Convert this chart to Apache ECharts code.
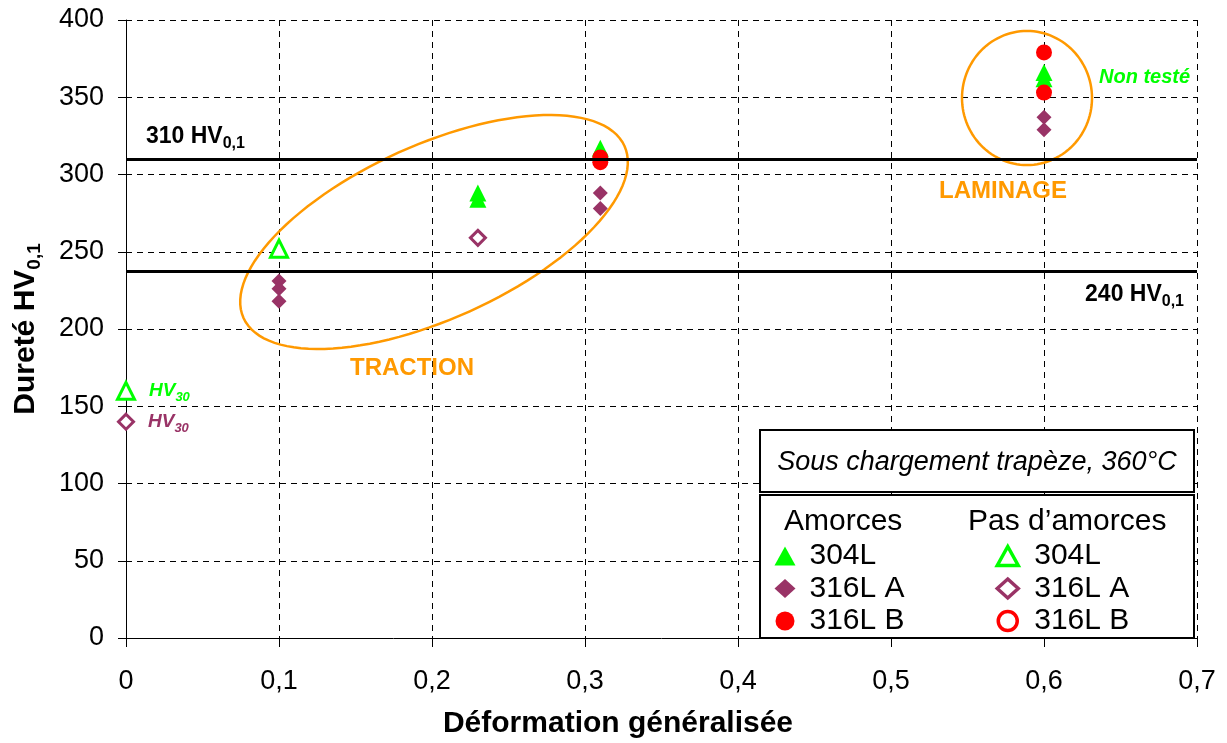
<!DOCTYPE html>
<html><head><meta charset="utf-8">
<script src="https://cdn.jsdelivr.net/npm/echarts@6/dist/echarts.min.js"></script>
<style>html,body{margin:0;padding:0;background:#fff}#c{width:1227px;height:743px}</style>
</head><body><div id="c"></div>
<script>
// ---- data ----
const s304Filled   = [[0.23,288],[0.23,284],[0.31,317],[0.6,366],[0.6,362]];
const s304Hollow   = [[0,160],[0.1,252]];
const s316AFilled  = [[0.1,231],[0.1,226],[0.1,218],[0.31,288],[0.31,278],[0.6,337],[0.6,329]];
const s316AHollow  = [[0,140],[0.23,259]];
const s316BFilled  = [[0.31,311],[0.31,308],[0.6,379],[0.6,353]];
const s316BHollow  = [];
const refLines     = [310, 237.5];
const refLabels    = ['310', '240'];
const hv30Index    = 0; // point measured HV30 in hollow series

const FONT = 'Liberation Sans, Arial, sans-serif';
const GREEN = '#00ff00', PURPLE = '#993366', RED = '#ff0000', ORANGE = '#ff9900';

function ellipsePts(cx, cy, a, b, deg) {
  const p = [], f = deg * Math.PI / 180, c = Math.cos(f), s = Math.sin(f);
  for (let i = 0; i <= 120; i++) {
    const t = i / 120 * 2 * Math.PI;
    p.push([cx + a * c * Math.cos(t) - b * s * Math.sin(t), cy + a * s * Math.cos(t) + b * c * Math.sin(t)]);
  }
  return p;
}

const hvRich = {
  m: {fontSize: 19, fontWeight: 'bold', fontStyle: 'italic', fontFamily: FONT, lineHeight: 26},
  s: {fontSize: 13, fontWeight: 'bold', fontStyle: 'italic', fontFamily: FONT, lineHeight: 12, verticalAlign: 'bottom'}
};
function withHv(arr, color) {
  return arr.map((p, i) => i === hv30Index ? {value: p, label: {show: true, position: 'right', distance: 13,
    formatter: '{m|HV}{s|30}', color: color, rich: JSON.parse(JSON.stringify(hvRich))}} : p);
}
const refRich = {
  m: {fontSize: 23, fontWeight: 'bold', fontFamily: FONT, color: '#000', lineHeight: 30},
  s: {fontSize: 16, fontWeight: 'bold', fontFamily: FONT, color: '#000', lineHeight: 14, verticalAlign: 'bottom'}
};

const chart = echarts.init(document.getElementById('c'), null, {renderer: 'canvas'});
const legendBase = {
  orient: 'vertical', itemWidth: 21, itemHeight: 19, itemGap: 2.5, padding: 0, top: 541, z: 10,
  selectedMode: false, formatter: n => n.trim(),
  textStyle: {fontSize: 30, lineHeight: 30, color: '#000', fontFamily: FONT}
};
const hollowLegendStyle = c => ({color: '#fff', borderColor: c, borderWidth: 3.5, opacity: 1});
chart.setOption({
  animation: false,
  textStyle: {fontFamily: FONT},
  grid: {left: 126, right: 30, top: 20, bottom: 105, containLabel: false, outerBoundsMode: 'none'},
  xAxis: {
    type: 'value', min: 0, max: 0.7, interval: 0.1,
    name: 'Déformation généralisée', nameLocation: 'middle', nameGap: 71,
    nameTextStyle: {fontSize: 30, fontWeight: 'bold', color: '#000', fontFamily: FONT, padding: [0, 87, 0, 0]},
    axisLine: {show: true, onZero: false, lineStyle: {color: '#000', width: 1}},
    axisTick: {show: true, length: 9, lineStyle: {color: '#000'}},
    axisLabel: {fontSize: 27, color: '#000', margin: 30, fontFamily: FONT,
      formatter: v => v === 0 ? '0' : v.toFixed(1).replace('.', ',')},
    splitLine: {show: true, showMinLine: false, lineStyle: {color: '#000', type: [6, 5], width: 1}}
  },
  yAxis: {
    type: 'value', min: 0, max: 400, interval: 50,
    name: 'Dureté HV{s|0,1}', nameLocation: 'middle', nameGap: 82, nameRotate: 90,
    nameTextStyle: {fontSize: 30, fontWeight: 'bold', color: '#000', fontFamily: FONT, lineHeight: 36,
      rich: {s: {fontSize: 19, fontWeight: 'bold', fontFamily: FONT, color: '#000', lineHeight: 17, verticalAlign: 'bottom'}}},
    axisLine: {show: true, lineStyle: {color: '#000', width: 1}},
    axisTick: {show: true, length: 8, lineStyle: {color: '#000'}},
    axisLabel: {fontSize: 27, color: '#000', margin: 22, fontFamily: FONT},
    splitLine: {show: true, showMinLine: false, lineStyle: {color: '#000', type: [6, 5], width: 1}}
  },
  legend: [
    Object.assign({}, legendBase, {left: 774.5, data: ['304L', '316L A', '316L B'],
      textStyle: Object.assign({}, legendBase.textStyle, {padding: [0, 0, 0, 9]})}),
    Object.assign({}, legendBase, {left: 995.5,
      data: [{name: '304L ', itemStyle: hollowLegendStyle(GREEN)},
             {name: '316L A ', itemStyle: hollowLegendStyle(PURPLE)},
             {name: '316L B ', itemStyle: hollowLegendStyle(RED)}],
      textStyle: Object.assign({}, legendBase.textStyle, {padding: [0, 0, 0, 11]})})
  ],
  series: [
    {name: '304L', type: 'scatter', symbol: 'triangle', symbolSize: 17, data: s304Filled,
      itemStyle: {color: GREEN, opacity: 1},
      markLine: {silent: true, symbol: ['none', 'none'], animation: false,
        lineStyle: {color: '#000', width: 3, type: 'solid', opacity: 1},
        data: refLines.map((v, i) => ({yAxis: v, label: {show: true,
          position: i === 0 ? 'insideStartTop' : 'insideEndBottom',
          formatter: '{m|' + refLabels[i] + ' HV}{s|0,1}', rich: refRich,
          padding: i === 0 ? [0, 0, 2, 15] : [4, 8, 0, 0]}}))}},
    {name: '316L A', type: 'scatter', symbol: 'diamond', symbolSize: 15, data: s316AFilled,
      itemStyle: {color: PURPLE, opacity: 1}},
    {name: '316L B', type: 'scatter', symbol: 'circle', symbolSize: 16, data: s316BFilled,
      itemStyle: {color: RED, opacity: 1}},
    {name: '304L ', type: 'scatter', symbol: 'triangle', symbolSize: 17, data: withHv(s304Hollow, GREEN),
      itemStyle: {color: '#fff', borderColor: GREEN, borderWidth: 3, opacity: 1}},
    {name: '316L A ', type: 'scatter', symbol: 'diamond', symbolSize: 15, data: withHv(s316AHollow, PURPLE),
      itemStyle: {color: '#fff', borderColor: PURPLE, borderWidth: 3, opacity: 1}},
    {name: '316L B ', type: 'scatter', symbol: 'circle', symbolSize: 15, data: s316BHollow,
      itemStyle: {color: '#fff', borderColor: RED, borderWidth: 3, opacity: 1}}
  ],
  graphic: [
    {type: 'polyline', z: 1, silent: true, shape: {points: ellipsePts(434, 232, 209, 87, -24.3)},
      style: {stroke: ORANGE, lineWidth: 2.5, fill: null}},
    {type: 'polyline', z: 1, silent: true, shape: {points: ellipsePts(1027, 98, 65, 67, 0)},
      style: {stroke: ORANGE, lineWidth: 2.5, fill: null}},
    {type: 'text', z: 3, silent: true, x: 412, y: 368, style: {text: 'TRACTION', fill: ORANGE,
      font: 'bold 24px ' + FONT, align: 'center', verticalAlign: 'middle'}},
    {type: 'text', z: 3, silent: true, x: 1003, y: 191, style: {text: 'LAMINAGE', fill: ORANGE,
      font: 'bold 24px ' + FONT, align: 'center', verticalAlign: 'middle'}},
    {type: 'text', z: 3, silent: true, x: 1099, y: 77, style: {text: 'Non testé', fill: GREEN,
      font: 'italic bold 20px ' + FONT, align: 'left', verticalAlign: 'middle'}},
    {type: 'rect', z: 5, silent: true, shape: {x: 760, y: 430, width: 434, height: 62},
      style: {fill: '#fff', stroke: '#000', lineWidth: 2}},
    {type: 'rect', z: 5, silent: true, shape: {x: 760, y: 495, width: 434, height: 143},
      style: {fill: '#fff', stroke: '#000', lineWidth: 2}},
    {type: 'text', z: 11, silent: true, x: 977, y: 462, style: {text: 'Sous chargement trapèze, 360°C',
      fill: '#000', font: 'italic 27px ' + FONT, align: 'center', verticalAlign: 'middle'}},
    {type: 'text', z: 11, silent: true, x: 784, y: 522, style: {text: 'Amorces',
      fill: '#000', font: '30px ' + FONT, align: 'left', verticalAlign: 'middle'}},
    {type: 'text', z: 11, silent: true, x: 968, y: 522, style: {text: 'Pas d’amorces',
      fill: '#000', font: '30px ' + FONT, align: 'left', verticalAlign: 'middle'}}
  ]
});
</script></body></html>
